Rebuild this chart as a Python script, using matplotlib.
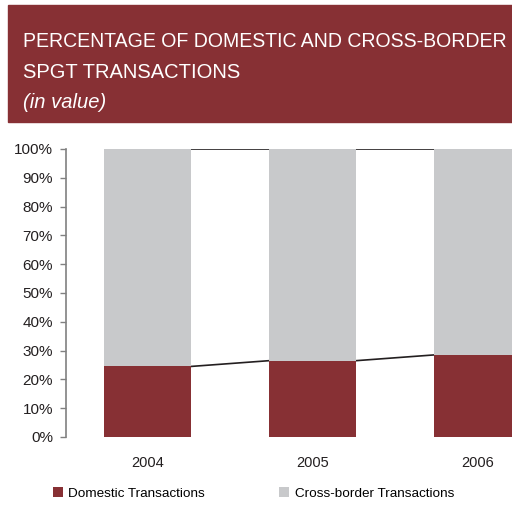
import matplotlib
matplotlib.use("Agg")
import matplotlib.pyplot as plt
from matplotlib.patches import Rectangle

years = ['2004', '2005', '2006']
domestic = [24.5, 26.5, 28.5]
cross_border = [100 - d for d in domestic]

maroon = '#873034'
grey = '#c8c9cb'

plt.rcParams['font.family'] = ['Liberation Sans', 'DejaVu Sans']

W, H = 512, 515
fig = plt.figure(figsize=(W / 100, H / 100), dpi=100)

# title banner
fig.patches.append(Rectangle((8 / W, 1 - 122 / H), 504 / W, 117 / H,
                             transform=fig.transFigure, color=maroon, zorder=0))
t1 = fig.text(23 / W, 1 - 47 / H, 'PERCENTAGE OF DOMESTIC AND CROSS-BORDER',
              color='white', fontsize=14.5, ha='left', va='baseline')
fig.text(23 / W, 1 - 78 / H, 'SPGT TRANSACTIONS',
         color='white', fontsize=14.5, ha='left', va='baseline')
fig.text(23 / W, 1 - 108 / H, '(in value)',
         color='white', fontsize=14.5, style='italic', ha='left', va='baseline')

# squeeze the long first line so it stays inside the banner
r = fig.canvas.get_renderer()
w1 = t1.get_window_extent(r).width
if w1 > 484:
    t1.set_fontsize(14.5 * 484 / w1)

ax = fig.add_axes([66 / W, 1 - 437 / H, 446 / W, 288 / H])
x = list(range(len(years)))
width = 0.527
ax.bar(x, domestic, width, color=maroon, label='Domestic Transactions', zorder=2)
ax.bar(x, cross_border, width, bottom=domestic, color=grey,
       label='Cross-border Transactions', zorder=2)

# series lines joining the bar edges
for i in range(len(x) - 1):
    xs = [x[i] + width / 2, x[i + 1] - width / 2]
    ax.plot(xs, [domestic[i], domestic[i + 1]], color='#231f20', lw=1.2, zorder=1)
    ax.plot(xs, [100, 100], color='#231f20', lw=1.2, zorder=1)

ax.set_xlim(-0.494, 2.209)
ax.set_ylim(0, 100)
ax.set_yticks(range(0, 101, 10))
ax.set_yticklabels(['%d%%' % v for v in range(0, 101, 10)])
ax.set_xticks(x)
ax.set_xticklabels(years)
for s in ['top', 'right', 'bottom']:
    ax.spines[s].set_visible(False)
ax.spines['left'].set_color('#808080')
ax.spines['left'].set_linewidth(1.2)
ax.tick_params(axis='y', length=4.3, width=1, color='#808080', labelsize=11,
               labelcolor='#231f20', pad=5)
ax.tick_params(axis='x', length=0, labelsize=10.5, labelcolor='#231f20', pad=14)

ax.legend(loc='upper left', bbox_to_anchor=(53 / W, 1 - 487 / H),
          bbox_transform=fig.transFigure, ncol=2, frameon=False, fontsize=9.7,
          handlelength=0.75, handleheight=0.75, handletextpad=0.4,
          columnspacing=5.5, borderaxespad=0, borderpad=0)

fig.savefig('out.png', dpi=100)
